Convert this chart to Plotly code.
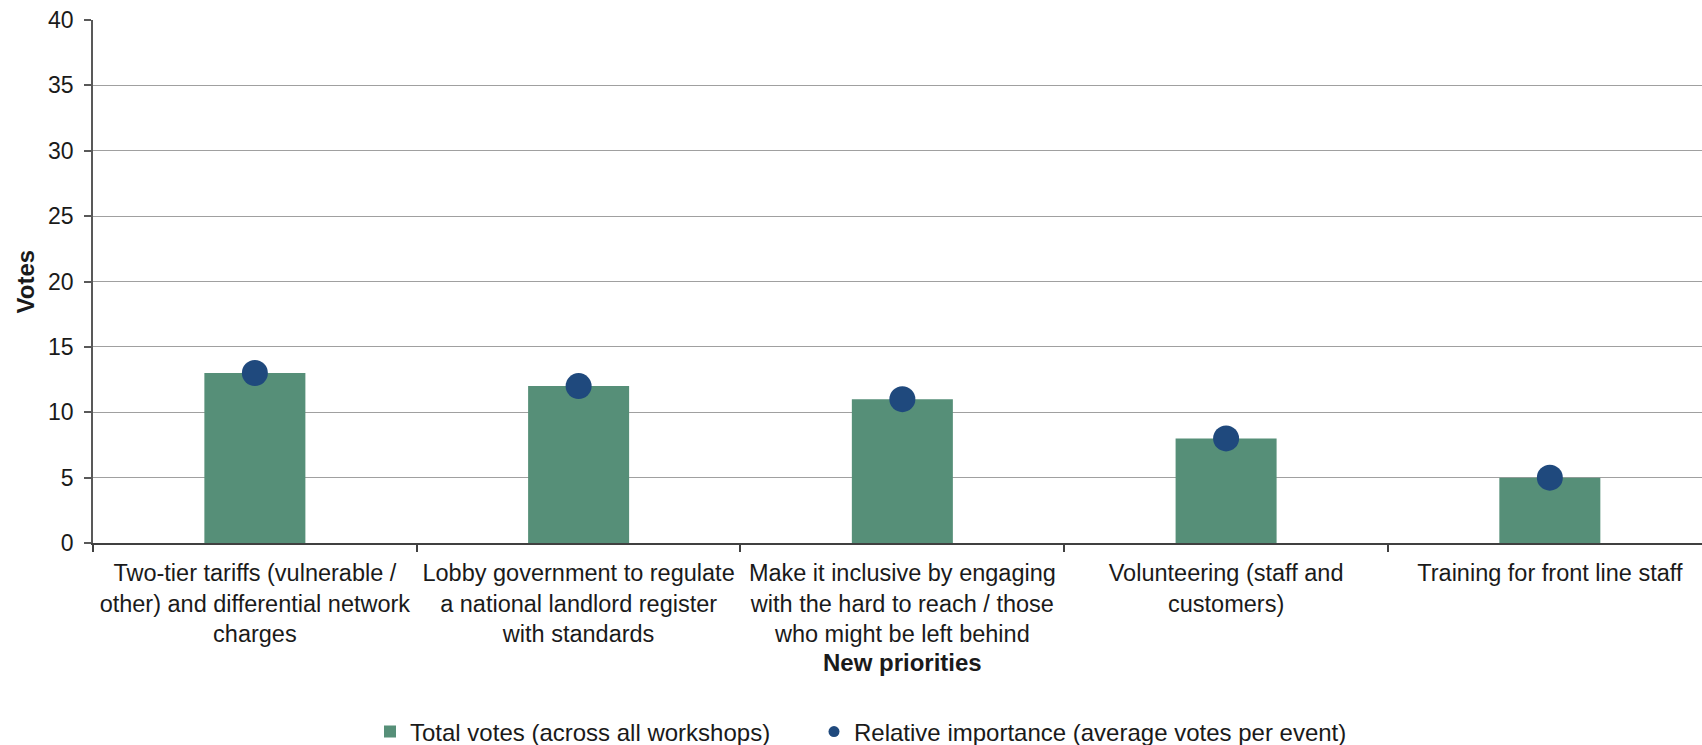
import plotly.graph_objects as go

# Categories and values
categories = [
    "Two-tier tariffs (vulnerable /<br>other) and differential network<br>charges",
    "Lobby government to regulate<br>a national landlord register<br>with standards",
    "Make it inclusive by engaging<br>with the hard to reach / those<br>who might be left behind",
    "Volunteering (staff and<br>customers)",
    "Training for front line staff",
]
total_votes = [13, 12, 11, 8, 5]
relative_importance = [13, 12, 11, 8, 5]

bar_name = "Total votes (across all workshops)"
dot_name = "Relative importance (average votes per event)"

BAR_COLOR = "#568F78"
DOT_COLOR = "#1F497D"
TEXT_COLOR = "#1a1a1a"
FONT = "Liberation Sans, Arial, sans-serif"

fig = go.Figure()

fig.add_trace(go.Bar(
    x=categories, y=total_votes, name=bar_name,
    marker=dict(color=BAR_COLOR, line=dict(width=0)),
    showlegend=True, legend="legend",
))

fig.add_trace(go.Scatter(
    x=categories, y=relative_importance, name=dot_name,
    mode="markers",
    marker=dict(color=DOT_COLOR, size=26, line=dict(width=0)),
    showlegend=False,
))

# smaller legend marker for the dot series
fig.add_trace(go.Scatter(
    x=[None], y=[None], name=dot_name, mode="markers",
    marker=dict(color=DOT_COLOR, size=11, line=dict(width=0)),
    showlegend=True, legend="legend2",
))

legend_common = dict(
    orientation="h",
    xref="container", xanchor="left",
    yref="container", y=1 - 732 / 745, yanchor="middle",
    font=dict(size=24, color=TEXT_COLOR),
    bgcolor="rgba(0,0,0,0)",
)

fig.update_layout(
    width=1702, height=745,
    margin=dict(l=93, r=0, t=20, b=202),
    paper_bgcolor="white", plot_bgcolor="white",
    font=dict(family=FONT, size=23.5, color=TEXT_COLOR),
    bargap=0.688,
    showlegend=True,
    legend=dict(x=370 / 1702, **legend_common),
    legend2=dict(x=814 / 1702, **legend_common),
)

fig.update_xaxes(
    type="category",
    range=[-0.5, 4.47],
    showline=True, linecolor="#404040", linewidth=1.5,
    ticks="outside", tickson="boundaries", ticklen=7, tickcolor="#404040", tickwidth=1.5,
    ticklabelstandoff=8,
    showgrid=False,
    tickfont=dict(size=23.5, color=TEXT_COLOR),
)

fig.update_yaxes(
    range=[0, 40], dtick=5,
    showline=True, linecolor="#595959", linewidth=1.5,
    ticks="outside", ticklen=7, tickcolor="#595959", tickwidth=1.5,
    ticklabelstandoff=6,
    showgrid=True, gridcolor="#A0A0A0", gridwidth=1.2,
    zeroline=False,
    tickfont=dict(size=23, color=TEXT_COLOR),
)

# axis titles
fig.add_annotation(
    text="<b>New priorities</b>", xref="paper", yref="paper",
    x=(902 - 93) / 1609, y=(543 - 662) / 523,
    xanchor="center", yanchor="middle", showarrow=False,
    font=dict(size=24, color=TEXT_COLOR, family=FONT),
)
fig.add_annotation(
    text="<b>Votes</b>", xref="paper", yref="paper",
    x=(25 - 93) / 1609, y=0.5,
    xanchor="center", yanchor="middle", showarrow=False, textangle=-90,
    font=dict(size=24, color=TEXT_COLOR, family=FONT),
)

fig.write_html("out.html")
